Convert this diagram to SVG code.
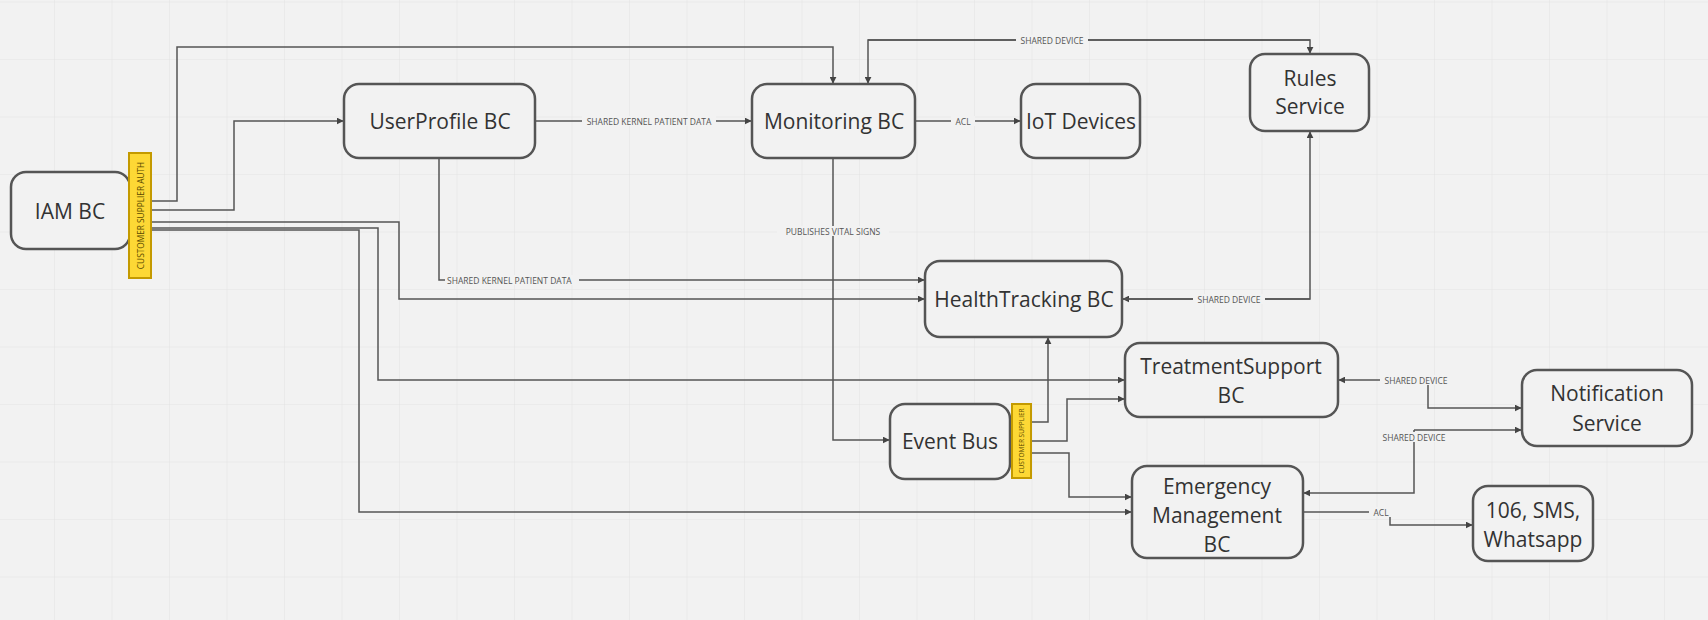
<svg xmlns="http://www.w3.org/2000/svg" width="1708" height="620" viewBox="0 0 1708 620">
<defs>
<pattern id="grid" x="-2.5" y="2.5" width="57.5" height="57.5" patternUnits="userSpaceOnUse">
<path d="M57.5 0 V57.5 M0 57.5 H57.5" fill="none" stroke="#e4e4e4" stroke-width="1.2"/>
</pattern>
<marker id="arr" viewBox="0 0 10 10" refX="9" refY="5" markerWidth="7" markerHeight="7" markerUnits="userSpaceOnUse" orient="auto">
<path d="M0 0 L10 5 L0 10 z" fill="#444"/>
</marker>
<style>
.node rect{fill:#f2f2f2;stroke:#555;stroke-width:2.5}
.node text{font-family:"Open Sans","Noto Sans",sans-serif;font-size:21px;fill:#333;text-anchor:middle;dominant-baseline:central}
.bar rect{fill:#fdd835;stroke:#c49a00;stroke-width:2}
.bar text{font-family:"Open Sans","Noto Sans",sans-serif;fill:#5a4a00;text-anchor:middle;dominant-baseline:central}
.c path{fill:none;stroke:#555;stroke-width:1.5}
.c .a{marker-end:url(#arr)}
.lbl{font-family:"Open Sans","Noto Sans",sans-serif;font-size:8.5px;fill:#555;dominant-baseline:central}
.lbg{fill:#f2f2f2}
</style>
</defs>
<rect width="1708" height="620" fill="#f2f2f2"/>
<rect width="1708" height="620" fill="url(#grid)"/>

<g id="connectors" class="c">
<path class="a" d="M151 201 H177 V47 H833 V83"/>
<path class="a" d="M1310 40 H868 V83"/>
<path class="a" d="M868 40 H1310 V53"/>
<path class="a" d="M151 210 H234 V121 H343"/>
<path class="a" d="M535 121 H751"/>
<path class="a" d="M915 121 H1020"/>
<path class="a" d="M439 158 V280 H924"/>
<path class="a" d="M151 222 H399 V299 H924"/>
<path class="a" d="M833 158 V440 H889"/>
<path class="a" d="M1310 299 H1123"/>
<path class="a" d="M1123 299 H1310 V132"/>
<path class="a" d="M151 228 H378 V380 H1124"/>
<path class="a" d="M151 230 H359 V512 H1131"/>
<path class="a" d="M1031 422 H1048 V338"/>
<path class="a" d="M1031 441 H1067 V399 H1124"/>
<path class="a" d="M1031 453 H1069 V497 H1131"/>
<path class="a" d="M1428 380 H1339"/>
<path class="a" d="M1415 380 H1428 V408 H1521"/>
<path class="a" d="M1414 430 V493 H1304"/>
<path class="a" d="M1414 430 H1521"/>
<path class="a" d="M1303 512 H1390 V525 H1472"/>

<rect class="lbg" x="1016" y="35" width="72" height="10"/>
<text class="lbl" x="1052" y="40" text-anchor="middle">SHARED DEVICE</text>
<rect class="lbg" x="582" y="116" width="134" height="10"/>
<text class="lbl" x="649" y="121" text-anchor="middle">SHARED KERNEL PATIENT DATA</text>
<rect class="lbg" x="951" y="116" width="24" height="10"/>
<text class="lbl" x="963" y="121" text-anchor="middle">ACL</text>
<rect class="lbg" x="445" y="275" width="134" height="10"/>
<text class="lbl" x="447" y="280">SHARED KERNEL PATIENT DATA</text>
<rect class="lbg" x="777" y="226" width="112" height="10"/>
<text class="lbl" x="833" y="231" text-anchor="middle">PUBLISHES VITAL SIGNS</text>
<rect class="lbg" x="1193" y="294" width="72" height="10"/>
<text class="lbl" x="1229" y="299" text-anchor="middle">SHARED DEVICE</text>
<rect class="lbg" x="1380" y="375" width="72" height="10"/>
<text class="lbl" x="1416" y="380" text-anchor="middle">SHARED DEVICE</text>
<rect class="lbg" x="1378" y="432" width="72" height="10"/>
<text class="lbl" x="1414" y="437" text-anchor="middle">SHARED DEVICE</text>
<rect class="lbg" x="1369" y="507" width="24" height="10"/>
<text class="lbl" x="1381" y="512" text-anchor="middle">ACL</text>
</g>

<g id="iam" class="node"><rect x="11" y="172" width="119" height="77" rx="15"/><text x="70" y="211">IAM BC</text></g>
<g id="iam-bar" class="bar"><rect x="129" y="153" width="22" height="125"/><text x="0" y="0" font-size="8.3" transform="translate(140.5 215.5) rotate(-90)">CUSTOMER SUPPLIER AUTH</text></g>
<g id="userprofile" class="node"><rect x="344" y="84" width="191" height="74" rx="15"/><text x="440" y="121">UserProfile BC</text></g>
<g id="monitoring" class="node"><rect x="752" y="84" width="163" height="74" rx="15"/><text x="834" y="121">Monitoring BC</text></g>
<g id="iot" class="node"><rect x="1021" y="84" width="119" height="74" rx="15"/><text x="1081" y="121">IoT Devices</text></g>
<g id="rules" class="node"><rect x="1250" y="54" width="119" height="77" rx="15"/><text x="1310" y="78">Rules</text><text x="1310" y="106">Service</text></g>
<g id="healthtracking" class="node"><rect x="925" y="261" width="197" height="76" rx="15"/><text x="1024" y="299">HealthTracking BC</text></g>
<g id="treatment" class="node"><rect x="1125" y="343" width="213" height="74" rx="15"/><text x="1231" y="366">TreatmentSupport</text><text x="1231" y="395">BC</text></g>
<g id="notification" class="node"><rect x="1522" y="370" width="170" height="76" rx="15"/><text x="1607" y="393">Notification</text><text x="1607" y="423">Service</text></g>
<g id="eventbus" class="node"><rect x="890" y="404" width="120" height="75" rx="15"/><text x="950" y="441">Event Bus</text></g>
<g id="eventbus-bar" class="bar"><rect x="1012" y="404" width="19" height="74"/><text x="0" y="0" font-size="6.5" transform="translate(1021.5 441) rotate(-90)">CUSTOMER SUPPLIER</text></g>
<g id="emergency" class="node"><rect x="1132" y="466" width="171" height="92" rx="15"/><text x="1217" y="486">Emergency</text><text x="1217" y="515">Management</text><text x="1217" y="544">BC</text></g>
<g id="channels" class="node"><rect x="1473" y="486" width="120" height="75" rx="15"/><text x="1533" y="510">106, SMS,</text><text x="1533" y="539">Whatsapp</text></g>
</svg>
